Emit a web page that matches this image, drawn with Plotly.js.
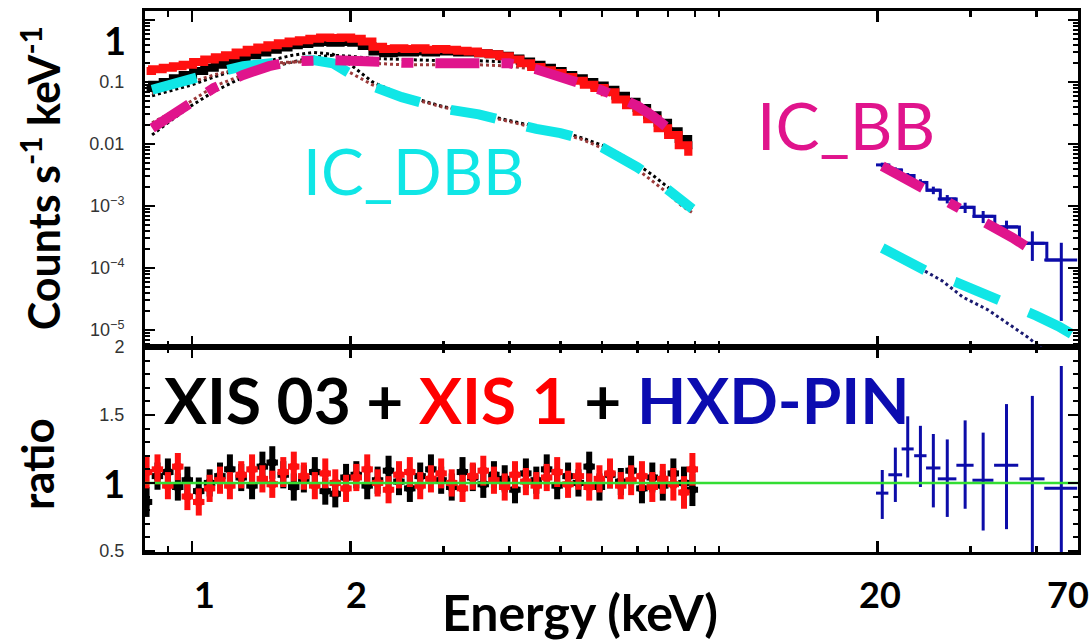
<!DOCTYPE html>
<html><head><meta charset="utf-8">
<script src="https://cdn.plot.ly/plotly-3.0.1.min.js"></script>
<style>html,body{margin:0;padding:0;background:#fff}</style>
</head><body>
<div id="chart" style="width:1089px;height:641px"></div>
<script>
// ---- XIS spectra (keV, counts s^-1 keV^-1) ----
const E_XIS = [0.82,0.86,0.90,0.94,0.98,1.03,1.08,1.13,1.18,1.24,1.30,1.36,1.42,1.49,1.56,1.63,1.71,1.79,1.87,1.96,2.05,2.15,2.25,2.36,2.47,2.59,2.71,2.84,2.97,3.11,3.26,3.41,3.57,3.74,3.92,4.10,4.30,4.50,4.71,4.93,5.17,5.41,5.67,5.93,6.21,6.51,6.81,7.14,7.47,7.82,8.19,8.58,8.90];
const XIS03_FLUX = [0.08,0.09,0.10,0.115,0.13,0.15,0.17,0.19,0.21,0.24,0.27,0.30,0.33,0.36,0.39,0.41,0.43,0.44,0.43,0.44,0.43,0.38,0.31,0.29,0.30,0.30,0.31,0.30,0.31,0.31,0.30,0.30,0.29,0.28,0.265,0.24,0.215,0.19,0.17,0.15,0.13,0.115,0.10,0.088,0.075,0.060,0.048,0.038,0.029,0.022,0.016,0.012,0.0095];
const XIS1_FLUX = [0.15,0.16,0.17,0.18,0.19,0.21,0.23,0.25,0.27,0.30,0.33,0.36,0.39,0.42,0.45,0.47,0.50,0.52,0.51,0.52,0.50,0.45,0.37,0.34,0.35,0.34,0.35,0.33,0.34,0.33,0.32,0.31,0.29,0.28,0.26,0.23,0.20,0.175,0.155,0.14,0.12,0.105,0.09,0.08,0.068,0.052,0.042,0.033,0.025,0.018,0.014,0.0095,0.0075];
const XIS03_RATIO = [0.86,1.05,1.08,0.97,1.02,0.94,1.00,1.05,1.10,1.04,0.98,1.12,1.15,1.06,0.97,1.03,1.08,0.94,0.92,1.04,1.06,0.98,1.02,1.09,1.01,0.96,1.05,1.10,1.02,0.97,1.08,1.04,0.99,1.06,1.03,0.95,1.07,1.02,1.10,0.98,1.05,1.00,1.12,0.97,1.06,1.01,1.09,0.96,1.04,0.98,1.07,1.00,0.95];
const XIS03_RATIO_ERR = [0.11,0.10,0.10,0.10,0.10,0.10,0.10,0.10,0.11,0.10,0.10,0.11,0.12,0.10,0.10,0.10,0.11,0.10,0.10,0.10,0.10,0.10,0.10,0.11,0.10,0.10,0.10,0.11,0.10,0.10,0.11,0.10,0.10,0.10,0.10,0.10,0.11,0.10,0.11,0.10,0.10,0.10,0.11,0.10,0.10,0.10,0.11,0.11,0.11,0.11,0.11,0.12,0.12];
const XIS1_RATIO = [1.08,1.10,0.98,1.12,0.90,0.86,0.96,1.02,0.98,1.06,1.10,1.03,0.99,1.08,1.12,1.05,0.98,1.07,1.00,0.96,1.04,1.10,1.00,0.95,1.06,1.08,0.98,1.03,1.07,1.00,0.96,1.05,1.09,1.02,0.97,1.06,1.01,0.98,1.04,1.08,0.99,1.05,0.97,1.03,1.07,0.98,1.02,1.05,0.97,1.03,0.99,0.93,1.10];
const XIS1_RATIO_ERR = [0.12,0.11,0.10,0.10,0.10,0.10,0.10,0.10,0.10,0.10,0.11,0.10,0.10,0.11,0.11,0.10,0.10,0.11,0.10,0.10,0.10,0.11,0.10,0.10,0.10,0.11,0.10,0.10,0.11,0.10,0.10,0.10,0.11,0.10,0.10,0.10,0.10,0.10,0.10,0.11,0.10,0.10,0.10,0.10,0.11,0.10,0.11,0.11,0.11,0.11,0.12,0.12,0.12];

// ---- XIS model components ----
const E_MOD = [0.84,0.9,1.0,1.1,1.25,1.4,1.55,1.7,1.85,2.0,2.2,2.5,3.0,3.5,4.0,4.5,5.0,5.5,6.0,6.5,7.0,7.5,8.0,8.5,8.9];
const IC_DBB_XIS = [0.075,0.09,0.11,0.14,0.18,0.21,0.22,0.225,0.20,0.135,0.085,0.057,0.037,0.030,0.022,0.0175,0.015,0.012,0.0088,0.0062,0.0042,0.0028,0.0018,0.00115,0.0009];
const IC_BB_XIS = [0.018,0.026,0.048,0.08,0.13,0.18,0.215,0.225,0.225,0.22,0.21,0.205,0.20,0.20,0.20,0.16,0.12,0.10,0.073,0.055,0.041,0.028,0.018,0.0118,null];
const XIS03_DBB = [0.06,0.07,0.09,0.12,0.17,0.22,0.27,0.30,0.28,0.19,0.10,0.062,0.040,0.031,0.024,0.019,0.016,0.0125,0.0095,0.0068,0.0047,0.0031,0.0020,0.0013,0.00088];
const XIS1_DBB = [0.065,0.08,0.10,0.13,0.17,0.20,0.21,0.21,0.19,0.14,0.09,0.060,0.039,0.030,0.023,0.018,0.015,0.0118,0.0086,0.0060,0.0039,0.0025,0.0016,0.0010,0.00078];
const XIS03_BB = [0.014,0.022,0.042,0.07,0.12,0.17,0.21,0.25,0.27,0.26,0.24,0.23,0.22,0.22,0.21,0.18,0.14,0.105,0.078,0.057,0.042,0.030,0.020,0.013,0.0098];
const XIS1_BB = [0.022,0.030,0.050,0.085,0.13,0.18,0.21,0.22,0.22,0.21,0.20,0.19,0.19,0.19,0.18,0.16,0.12,0.095,0.070,0.052,0.038,0.026,0.017,0.011,0.0082];

// ---- HXD-PIN ----
const E_PIN = [20.4,21.6,22.8,24.1,25.5,27.1,29.3,31.7,35.1,39.3,44.6];
const E_PIN_HW = [0.55,0.65,0.6,0.65,0.8,1.1,1.1,1.45,1.85,2.15,3.2];
const PIN_FLUX = [0.0046,0.0038,0.0031,0.0024,0.0018,0.0013,0.00095,0.00068,0.00046,0.00025,0.000135];
const PIN_FLUX_ERR_UP = [0.0004,0.0004,0.0003,0.0003,0.00025,0.0002,0.00018,0.00015,0.00012,0.00014,0.00012];
const PIN_FLUX_ERR_DN = [0.0004,0.0004,0.0003,0.0003,0.00025,0.0002,0.00018,0.00015,0.00012,0.00012,0.000121];
const PIN_RATIO = [0.925,1.06,1.25,1.20,1.11,1.03,1.13,1.02,1.13,1.03,0.96];
const PIN_RATIO_ERR_UP = [0.17,0.20,0.24,0.22,0.25,0.29,0.33,0.35,0.45,0.61,0.90];
const PIN_RATIO_ERR_DN = [0.19,0.20,0.21,0.23,0.29,0.28,0.32,0.37,0.47,0.60,0.60];
const E_PIN_BB = [20.4,22,24,26,28,30,33,36,39,42];
const IC_BB_PIN = [0.0044,0.0031,0.0021,0.0015,0.0011,0.00075,0.00047,0.00031,0.0002,0.000135];
const E_PIN_DBB = [20.4,23,25,28,32,36,40,44,48];
const IC_DBB_PIN = [2.1e-4,1.3e-4,8.5e-5,6.0e-5,3.8e-5,2.4e-5,1.7e-5,1.15e-5,7.5e-6];
const E_PIN_DOT = [20.4,24,26.5,29,32.4,35,38.4,41];
const PIN_DOT = [2.0e-4,1.0e-4,6.2e-5,3.4e-5,2.1e-5,1.35e-5,7.8e-6,5e-6];

// ---- ticks ----
const X_TICKS = [1,2,20];
const X_LABELS = ['1','2','20','70'];
const X_MINOR = [0.9,3,4,5,6,7,8,9,10,30,40];
const Y_TICKS = [1,0.1,0.01,1e-3,1e-4,1e-5];
const Y_TICKTEXT = ['','0.1','0.01','10<sup>−3</sup>','10<sup>−4</sup>','10<sup>−5</sup>'];
const R_TICKS = [0.5,1,1.5,2];
const R_TICKTEXT = ['0.5','','1.5','2'];
const UNITY = [0.7,60];
const UNITY_Y = [1,1];

const CYAN = '#10e6e6', MAG = '#e0148c', RED = '#ff1010', NAVY = '#0c0ca8';
const traces = [];
function dotted(x,y,color){ traces.push({x:x,y:y,xaxis:'x2',yaxis:'y',mode:'lines',line:{color:color,width:3,dash:'dot'},hoverinfo:'skip'}); }
dotted(E_MOD,XIS03_DBB,'#000');
dotted(E_MOD,XIS1_DBB,'#9a3a3a');
dotted(E_MOD,XIS03_BB,'#000');
dotted(E_MOD,XIS1_BB,'#9a3a3a');
dotted(E_PIN_DOT,PIN_DOT,'#1a1a70');

traces.push({x:E_XIS,y:XIS03_FLUX,xaxis:'x2',yaxis:'y',mode:'lines',line:{color:'#000',width:8,shape:'hvh'}});
traces.push({x:E_XIS,y:XIS1_FLUX,xaxis:'x2',yaxis:'y',mode:'lines',line:{color:RED,width:8,shape:'hvh'}});
traces.push({x:E_PIN,y:PIN_FLUX,xaxis:'x2',yaxis:'y',mode:'lines',line:{color:NAVY,width:3,shape:'hvh'},
  error_x:{type:'data',array:E_PIN_HW,color:NAVY,thickness:3,width:0},
  error_y:{type:'data',array:PIN_FLUX_ERR_UP,arrayminus:PIN_FLUX_ERR_DN,symmetric:false,color:NAVY,thickness:3,width:0}});

traces.push({x:E_MOD,y:IC_DBB_XIS,xaxis:'x2',yaxis:'y',mode:'lines',line:{color:CYAN,width:10,dash:'46px,32px'}});
traces.push({x:E_MOD,y:IC_BB_XIS,xaxis:'x2',yaxis:'y',mode:'lines',line:{color:MAG,width:10,dash:'44px,22px,12px,22px'}});
traces.push({x:E_PIN_DBB,y:IC_DBB_PIN,xaxis:'x2',yaxis:'y',mode:'lines',line:{color:CYAN,width:10,dash:'48px,32px'}});
traces.push({x:E_PIN_BB,y:IC_BB_PIN,xaxis:'x2',yaxis:'y',mode:'lines',line:{color:MAG,width:10,dash:'46px,30px,12px,30px'}});

// ratio panel
traces.push({x:E_XIS,y:XIS03_RATIO,xaxis:'x',yaxis:'y2',mode:'markers',marker:{size:7,color:'#000',symbol:'square'},
  error_y:{type:'data',array:XIS03_RATIO_ERR,color:'#000',thickness:6,width:0},
  error_x:{type:'percent',value:2.5,color:'#000',thickness:6,width:0}});
traces.push({x:E_XIS,y:XIS1_RATIO,xaxis:'x',yaxis:'y2',mode:'markers',marker:{size:7,color:RED,symbol:'square'},
  error_y:{type:'data',array:XIS1_RATIO_ERR,color:RED,thickness:6,width:0},
  error_x:{type:'percent',value:2.5,color:RED,thickness:6,width:0}});
traces.push({x:E_PIN,y:PIN_RATIO,xaxis:'x',yaxis:'y2',mode:'markers',marker:{size:2,color:NAVY},
  error_y:{type:'data',array:PIN_RATIO_ERR_UP,arrayminus:PIN_RATIO_ERR_DN,symmetric:false,color:NAVY,thickness:3,width:0},
  error_x:{type:'data',array:E_PIN_HW,color:NAVY,thickness:3,width:0}});
traces.push({x:UNITY,y:UNITY_Y,xaxis:'x',yaxis:'y2',mode:'lines',line:{color:'#33dd33',width:2.5}});

const axCommon = {showline:true,linecolor:'#000',linewidth:3,mirror:'allticks',ticks:'inside',tickcolor:'#000',showgrid:false,zeroline:false};
const xCommon = Object.assign({},axCommon,{type:'log',range:[-0.0892,1.681],tickmode:'array',tickvals:X_TICKS,showticklabels:false,
  ticklen:11,tickwidth:2.5,minor:{tickmode:'array',tickvals:X_MINOR,ticks:'inside',ticklen:6,tickwidth:2.5,tickcolor:'#000'}});

function ann(x,y,text,font,extra){ return Object.assign({xref:'paper',yref:'paper',x:x,y:y,xanchor:'center',yanchor:'middle',text:text,showarrow:false,font:font},extra||{}); }
const BOLD = (s)=>({family:'Lato',size:s,color:'#000',weight:700});
// x tick label positions (paper fraction) copied from the reference layout
const X_LABEL_POS = [0.0643,0.2272,0.7878,0.989];
const xLabelAnns = X_LABELS.map((t,i)=>ann(X_LABEL_POS[i],-0.078,t,BOLD(36)));

const layout = {
  width:1089,height:641,margin:{l:145,r:11,t:11,b:89},showlegend:false,
  paper_bgcolor:'#fff',plot_bgcolor:'#fff',
  xaxis:Object.assign({},xCommon,{anchor:'y2',domain:[0,1]}),
  xaxis2:Object.assign({},xCommon,{anchor:'y',domain:[0,1],matches:'x'}),
  yaxis:Object.assign({},axCommon,{type:'log',range:[-5.274,0.145],domain:[0.379,1],anchor:'x2',tickmode:'array',tickvals:Y_TICKS,ticktext:Y_TICKTEXT,
    ticklen:10,tickwidth:2.5,tickfont:{family:'Liberation Sans',size:18,color:'#333'},ticklabelstandoff:14,
    minor:{dtick:'D1',ticks:'inside',ticklen:5,tickwidth:2,tickcolor:'#000'}}),
  yaxis2:Object.assign({},axCommon,{range:[0.492,2.0],domain:[0,0.379],anchor:'x',tickmode:'array',tickvals:R_TICKS,ticktext:R_TICKTEXT,
    ticklen:10,tickwidth:2.5,tickfont:{family:'Liberation Sans',size:18,color:'#333'},ticklabelstandoff:14,
    minor:{dtick:0.1,ticks:'inside',ticklen:5,tickwidth:2,tickcolor:'#000'}}),
  annotations:[
    ann(-0.032,0.946,'1',BOLD(38)),
    ann(-0.033,0.127,'1',BOLD(38)),
    ann(-0.112,0.69,'Counts s<sup>-1</sup> keV<sup>-1</sup>',BOLD(43),{textangle:-90}),
    ann(-0.115,0.162,'ratio',BOLD(44),{textangle:-90}),
    ann(0.466,-0.111,'Energy (keV)',BOLD(50)),
    ann(0.288,0.706,'IC_DBB',{family:'Lato',size:64,color:CYAN}),
    ann(0.751,0.79,'IC_BB',{family:'Lato',size:66,color:MAG}),
    ann(0.018,0.281,'XIS 03 + <span style="color:#ff0000">XIS 1</span> + <span style="color:#0c0cb0">HXD-PIN</span>',BOLD(64),{xanchor:'left'})
  ].concat(xLabelAnns)
};
Plotly.newPlot('chart',traces,layout,{displayModeBar:false,staticPlot:true});
</script>
</body></html>
